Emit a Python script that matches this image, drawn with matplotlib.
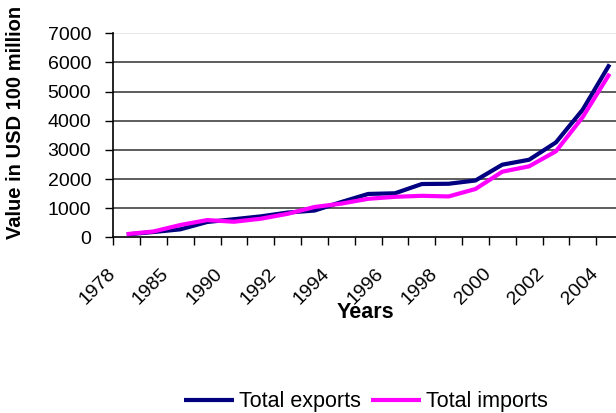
import matplotlib
matplotlib.use("Agg")
import matplotlib.pyplot as plt
from matplotlib.transforms import ScaledTranslation

plt.rcParams["font.family"] = ["Liberation Sans", "DejaVu Sans"]

years = ["1978", "1980", "1985", "1989", "1990", "1991", "1992", "1993", "1994", "1995",
         "1996", "1997", "1998", "1999", "2000", "2001", "2002", "2003", "2004"]
exports = [97.5, 181.2, 273.5, 525.4, 620.9, 718.4, 849.4, 917.4, 1210.1, 1487.8,
           1510.5, 1827.9, 1837.1, 1949.3, 2492.0, 2661.0, 3256.0, 4382.2, 5933.2]
imports = [108.9, 200.2, 422.5, 591.4, 533.5, 637.9, 805.9, 1039.6, 1156.1, 1320.8,
           1388.3, 1423.7, 1402.4, 1657.0, 2250.9, 2435.5, 2951.7, 4127.6, 5612.3]
y_ticks = [0, 1000, 2000, 3000, 4000, 5000, 6000, 7000]

fig = plt.figure(figsize=(6.16, 4.13), dpi=100)
ax = fig.add_axes([113.3 / 616, 1 - 237.3 / 413, (623 - 113.3) / 616, (237.3 - 33.3) / 413])

x = list(range(len(years)))
ax.plot(x, exports, color="#000080", lw=3.0, label="Total exports", solid_capstyle="butt", zorder=3)
ax.plot(x, imports, color="#FF00FF", lw=3.0, label="Total imports", solid_capstyle="butt", zorder=4)

ax.set_xlim(-0.5, len(years) - 0.5)
ax.set_ylim(0, 7000)
ax.set_yticks(y_ticks)
ax.set_yticklabels([str(v) for v in y_ticks], fontsize=14)
for v in y_ticks[1:-1]:
    ax.axhline(v, color="#505050", lw=1.3, zorder=1)
ax.axhline(7000, color="#e6e6e6", lw=1.3, zorder=1)

# category labels every other year, tick marks between categories
ax.set_xticks(x[::2])
ax.set_xticklabels(years[::2], fontsize=14, rotation=45, ha="right", va="top",
                   rotation_mode="anchor")
ax.set_xticks([i - 0.5 for i in x] + [len(years) - 0.5], minor=True)
ax.tick_params(axis="x", which="major", length=0, pad=20)
ax.tick_params(axis="x", which="minor", length=6, width=1, direction="out")
ax.tick_params(axis="y", length=6, width=1, direction="out", pad=10)
for lab in ax.get_xticklabels():
    lab.set_transform(lab.get_transform() + ScaledTranslation(-20 / 100, 0, fig.dpi_scale_trans))

for s in ["top", "right"]:
    ax.spines[s].set_visible(False)
ax.spines["left"].set_linewidth(1.2)
ax.spines["bottom"].set_linewidth(1.2)

fig.text(16 / 616, 1 - 122 / 413, "Value in USD 100 million", rotation=90,
         fontsize=14.5, fontweight="bold", ha="center", va="center")
fig.text(365 / 616, 1 - 313 / 413, "Years", fontsize=15.5, fontweight="bold",
         ha="center", va="center")

fig.legend(loc="center", bbox_to_anchor=(366 / 616, 1 - 402 / 413), ncol=2, frameon=False,
           fontsize=15.5, handlelength=2.33, handletextpad=0.23, columnspacing=0.47,
           borderpad=0.2)

fig.savefig("out.png", dpi=100)
